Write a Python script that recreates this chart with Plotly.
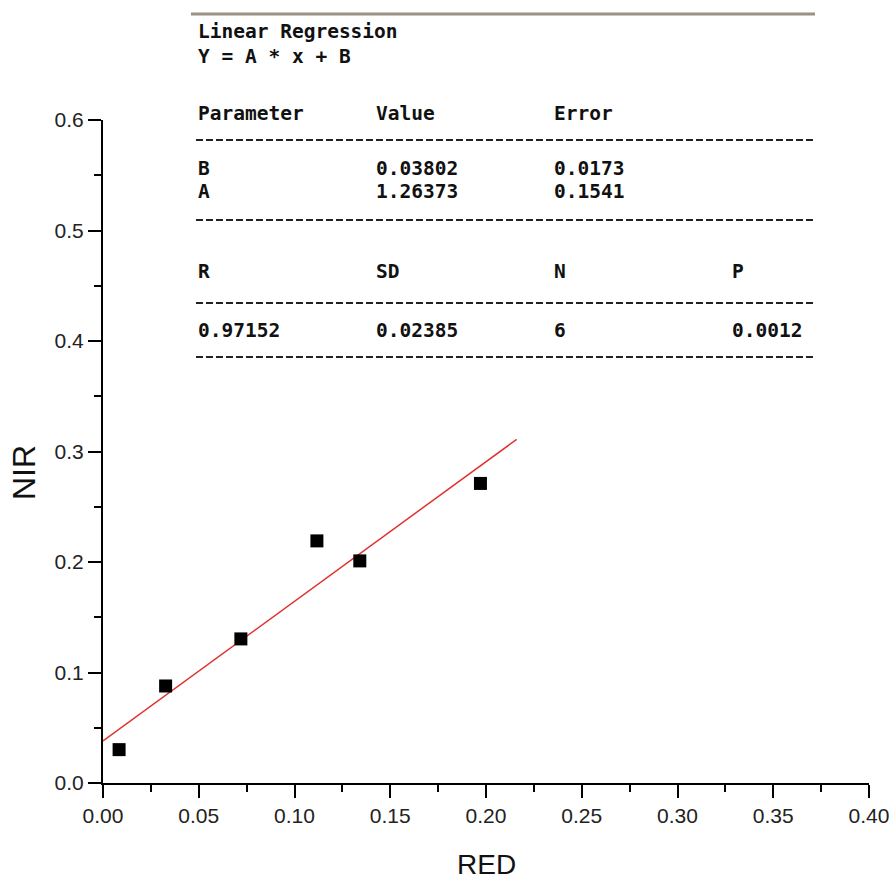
import plotly.graph_objects as go

# ---- data ----
red = [0.0084, 0.0327, 0.0720, 0.1117, 0.1341, 0.1971]
nir = [0.0302, 0.0878, 0.1304, 0.2191, 0.2010, 0.2711]

slope_A = 1.26373
intercept_B = 0.03802
fit_x_end = 0.216

x_ticks = [0.00, 0.05, 0.10, 0.15, 0.20, 0.25, 0.30, 0.35, 0.40]
y_ticks = [0.0, 0.1, 0.2, 0.3, 0.4, 0.5, 0.6]

x_title = "RED"
y_title = "NIR"

table_title = ["Linear Regression", "Y = A * x + B"]
param_header = ["Parameter", "Value", "Error"]
param_names = ["B", "A"]
param_values = ["0.03802", "1.26373"]
param_errors = ["0.0173", "0.1541"]
stat_header = ["R", "SD", "N", "P"]
stat_values = ["0.97152", "0.02385", "6", "0.0012"]

# ---- layout geometry (pixels) ----
W, H = 892, 886
ML, MR, MT, MB = 103, 23, 120, 103
PW, PH = W - ML - MR, H - MT - MB


def px(xp):
    return (xp - ML) / PW


def py(yp):
    return (H - MB - yp) / PH


fit_x = [0.0, fit_x_end]
fit_y = [slope_A * v + intercept_B for v in fit_x]

fig = go.Figure()
fig.add_trace(go.Scatter(x=fit_x, y=fit_y, mode="lines",
                         line=dict(color="#e0312e", width=1.5),
                         showlegend=False, hoverinfo="skip"))
fig.add_trace(go.Scatter(x=red, y=nir, mode="markers",
                         marker=dict(symbol="square", size=13, color="black"),
                         showlegend=False))

mono = dict(family="DejaVu Sans Mono", size=19.5, color="#111111")
cols = [196, 374, 552, 730]

ann = []


def add_text(x, y, t):
    ann.append(dict(xref="paper", yref="paper", x=px(x), y=py(y), text="<b>%s</b>" % t,
                    showarrow=False, xanchor="left", yanchor="middle", font=mono))


add_text(cols[0], 31, table_title[0])
add_text(cols[0], 57, table_title[1])
for i, t in enumerate(param_header):
    add_text(cols[i], 113, t)
for r, yy in enumerate([169, 192]):
    add_text(cols[0], yy, param_names[r])
    add_text(cols[1], yy, param_values[r])
    add_text(cols[2], yy, param_errors[r])
for i, t in enumerate(stat_header):
    add_text(cols[i], 271, t)
for i, t in enumerate(stat_values):
    add_text(cols[i], 330, t)

sans = "Liberation Sans, Arial, sans-serif"
# axis titles
ann.append(dict(xref="paper", yref="paper", x=px(24), y=py(473), text=y_title, textangle=-90,
                showarrow=False, xanchor="center", yanchor="middle",
                font=dict(family=sans, size=32, color="#111111")))
ann.append(dict(xref="paper", yref="paper", x=px(486), y=py(864), text=x_title,
                showarrow=False, xanchor="center", yanchor="middle",
                font=dict(family=sans, size=28, color="#111111")))

shapes = [dict(type="line", xref="paper", yref="paper", x0=px(191), x1=px(815),
               y0=py(14), y1=py(14), line=dict(color="#9a9282", width=3))]
for yy in [140, 220, 303, 357]:
    shapes.append(dict(type="line", xref="paper", yref="paper", x0=px(196), x1=px(815),
                       y0=py(yy), y1=py(yy), line=dict(color="#222222", width=2, dash="7px,3px")))

tickfont = dict(family=sans, size=21, color="#222222")

fig.update_layout(
    width=W, height=H,
    margin=dict(l=ML, r=MR, t=MT, b=MB, autoexpand=False),
    paper_bgcolor="white", plot_bgcolor="white",
    annotations=ann, shapes=shapes,
    xaxis=dict(range=[0, 0.4], tickvals=x_ticks, tickformat=".2f", ticklabeloverflow="allow",
               automargin=False,
               showgrid=False, zeroline=False, showline=True, linecolor="black", linewidth=2,
               ticks="outside", ticklen=13, tickwidth=2, tickcolor="black",
               minor=dict(dtick=0.025, ticks="outside", ticklen=7, tickwidth=2, tickcolor="black"),
               tickfont=tickfont),
    yaxis=dict(range=[0, 0.6], tickvals=y_ticks, tickformat=".1f", automargin=False,
               showgrid=False, zeroline=False, showline=True, linecolor="black", linewidth=2,
               ticks="outside", ticklen=13, tickwidth=2, tickcolor="black",
               minor=dict(dtick=0.05, ticks="outside", ticklen=7, tickwidth=2, tickcolor="black"),
               tickfont=tickfont),
)

fig.write_html("out.html")
